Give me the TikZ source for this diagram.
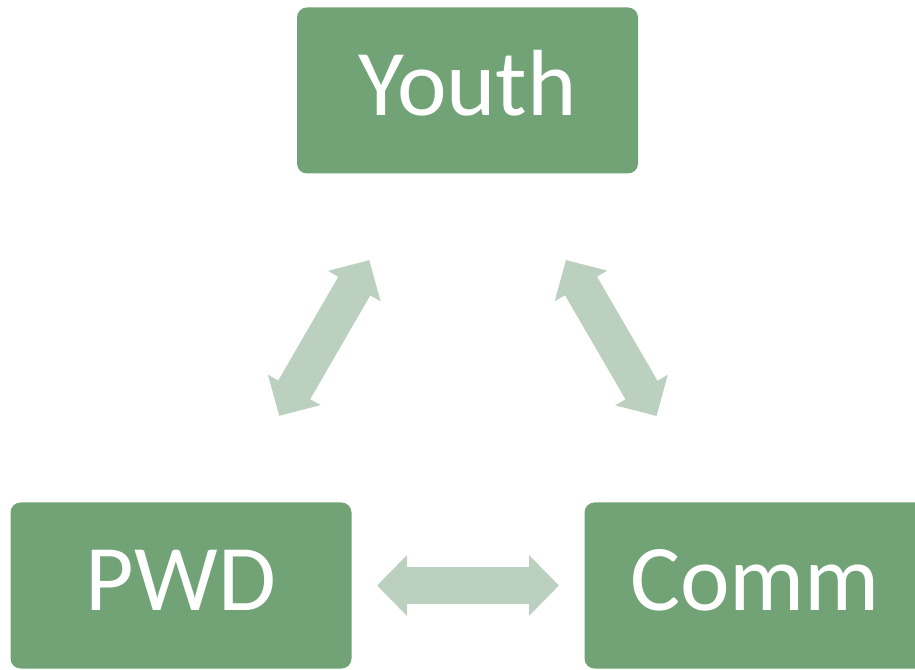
\documentclass[tikz,border=0pt]{standalone}
\usepackage{fontspec}
\setmainfont{Carlito}
\usepackage{tikz}
\usetikzlibrary{arrows.meta}
\definecolor{boxgreen}{RGB}{113,163,118}
\definecolor{arrowgreen}{RGB}{188,208,192}

\begin{document}
\begin{tikzpicture}[x=1pt,y=1pt,
   grupo/.style={fill=boxgreen,text=white,rounded corners=10pt,minimum width=341pt,minimum height=166pt,inner sep=0pt,text height=60pt,text depth=10pt,font=\fontsize{94}{100}\selectfont},
   ida/.style={draw=arrowgreen,line width=37pt,shorten <=196pt,shorten >=196pt,{Triangle[width=59pt,length=30pt]}-{Triangle[width=59pt,length=30pt]}}]
   \path[use as bounding box,clip] (0,0) rectangle (915,669);

   \draw (467.5,578.5) node[grupo] (youth) {Youth};
     \draw (181,83.5) node[grupo] (pwd) {PWD};
   \draw (755,83.5) node[grupo] (comm) {Comm};

     \path (pwd.center) edge[ida] (youth.center);
     \path (youth.center) edge[ida] (comm.center);
     \path (pwd.center) edge[ida] (comm.center);

\end{tikzpicture}
\end{document}
